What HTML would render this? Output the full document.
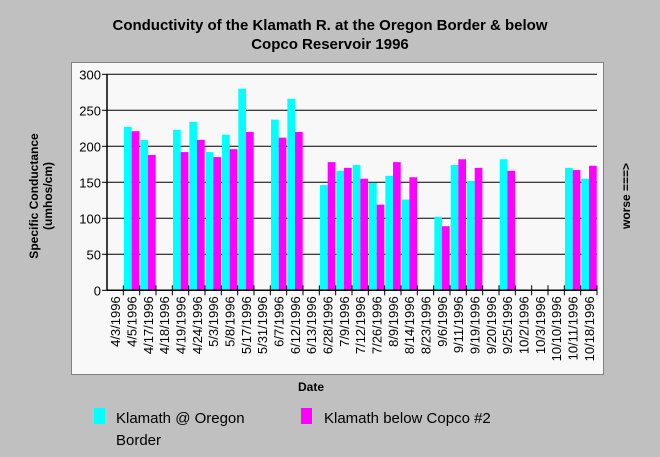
<!DOCTYPE html>
<html><head><meta charset="utf-8"><style>
body{margin:0;background:#c0c0c0;}
svg{display:block;font-family:"Liberation Sans",Arial,sans-serif;}
</style></head><body>
<svg id="chart" width="660" height="457">
<rect x="0" y="0" width="660" height="457" fill="#c0c0c0"/>
<text x="330" y="30" text-anchor="middle" font-size="15" font-weight="bold">Conductivity of the Klamath R. at the Oregon Border &amp; below</text>
<text x="330" y="49" text-anchor="middle" font-size="15" font-weight="bold">Copco Reservoir 1996</text>
<rect x="71.5" y="62.5" width="532" height="312" fill="#f8f8f8" stroke="#808080"/>
<g id="grid"></g><g id="bars"></g><g id="axes"></g>
<text transform="translate(38,196) rotate(-90)" text-anchor="middle" font-size="12" font-weight="bold">Specific Conductance</text>
<text transform="translate(52,196) rotate(-90)" text-anchor="middle" font-size="12" font-weight="bold">(umhos/cm)</text>
<text transform="translate(630,196) rotate(-90)" text-anchor="middle" font-size="12" font-weight="bold">worse ===&gt;</text>
<text x="311" y="391" text-anchor="middle" font-size="12" font-weight="bold">Date</text>
<g>
<rect x="94" y="408" width="11" height="16" fill="#00ffff"/>
<text x="116" y="423" font-size="15">Klamath @ Oregon</text>
<text x="116" y="445" font-size="15">Border</text>
<rect x="301" y="408" width="11" height="16" fill="#ff00ff"/>
<text x="324" y="423" font-size="15">Klamath below Copco #2</text>
</g>
</svg>
<script>
const categories=["4/3/1996","4/5/1996","4/17/1996","4/18/1996","4/19/1996","4/24/1996","5/3/1996","5/8/1996","5/17/1996","5/31/1996","6/7/1996","6/12/1996","6/13/1996","6/28/1996","7/9/1996","7/12/1996","7/26/1996","8/9/1996","8/14/1996","8/23/1996","9/6/1996","9/11/1996","9/19/1996","9/20/1996","9/25/1996","10/2/1996","10/3/1996","10/10/1996","10/11/1996","10/18/1996"];
const oregon=[null,227,209,null,223,234,192,216,280,null,237,266,null,146,166,174,149,159,126,null,102,174,152,null,182,null,null,null,170,155];
const copco=[null,221,188,null,192,209,185,196,220,null,212,220,null,178,170,155,119,178,157,null,89,182,170,null,166,null,null,null,167,173];
const yTicks=[0,50,100,150,200,250,300];
const NS="http://www.w3.org/2000/svg";
const X0=107,X1=597,Y0=290.3,Y1=74.3,YMAX=300;
const cw=(X1-X0)/categories.length;
const xc=i=>X0+i*cw;
const y=v=>Y0-(v/YMAX)*(Y0-Y1);
function mk(tag,attrs,parent){const e=document.createElementNS(NS,tag);for(const k in attrs)e.setAttribute(k,attrs[k]);parent.appendChild(e);return e;}
const grid=document.getElementById('grid'),bars=document.getElementById('bars'),axes=document.getElementById('axes');
yTicks.forEach(t=>{
 if(t>0){const g=mk('line',{x1:X0,x2:X1,y1:y(t),y2:y(t),stroke:'#000','stroke-width':1},grid);
 
 }
 const tk=mk('line',{x1:X0-5,x2:X0,y1:y(t),y2:y(t),stroke:'#000'},axes);
 
 
 const lb=mk('text',{x:X0-6,y:y(t)+5,'text-anchor':'end','font-size':13},axes);
 lb.textContent=t;
 
 
});
const bw=(cw-1)/2;
categories.forEach((c,i)=>{
 if(oregon[i]!=null){const r=mk('rect',{x:xc(i)+0.7,y:y(oregon[i]),width:bw,height:Y0-y(oregon[i]),fill:'#00ffff'},bars);
 
 }
 if(copco[i]!=null){const r=mk('rect',{x:xc(i)+0.7+bw,y:y(copco[i]),width:bw,height:Y0-y(copco[i]),fill:'#ff00ff'},bars);
 
 }
 const tk=mk('line',{x1:xc(i+1),x2:xc(i+1),y1:Y0-5,y2:Y0+5,stroke:'#000'},axes);
 
 
 const lb=mk('text',{transform:`translate(${xc(i)+cw/2+5},${Y0+6}) rotate(-90)`,'text-anchor':'end','font-size':13},axes);
 lb.textContent=c;
 
 
});
const ya=mk('line',{x1:X0,x2:X0,y1:Y1,y2:Y0,stroke:'#000','stroke-width':1.5},axes);


const xa=mk('line',{x1:X0,x2:X1,y1:Y0,y2:Y0,stroke:'#000','stroke-width':1.5},axes);


</script>
</body></html>
